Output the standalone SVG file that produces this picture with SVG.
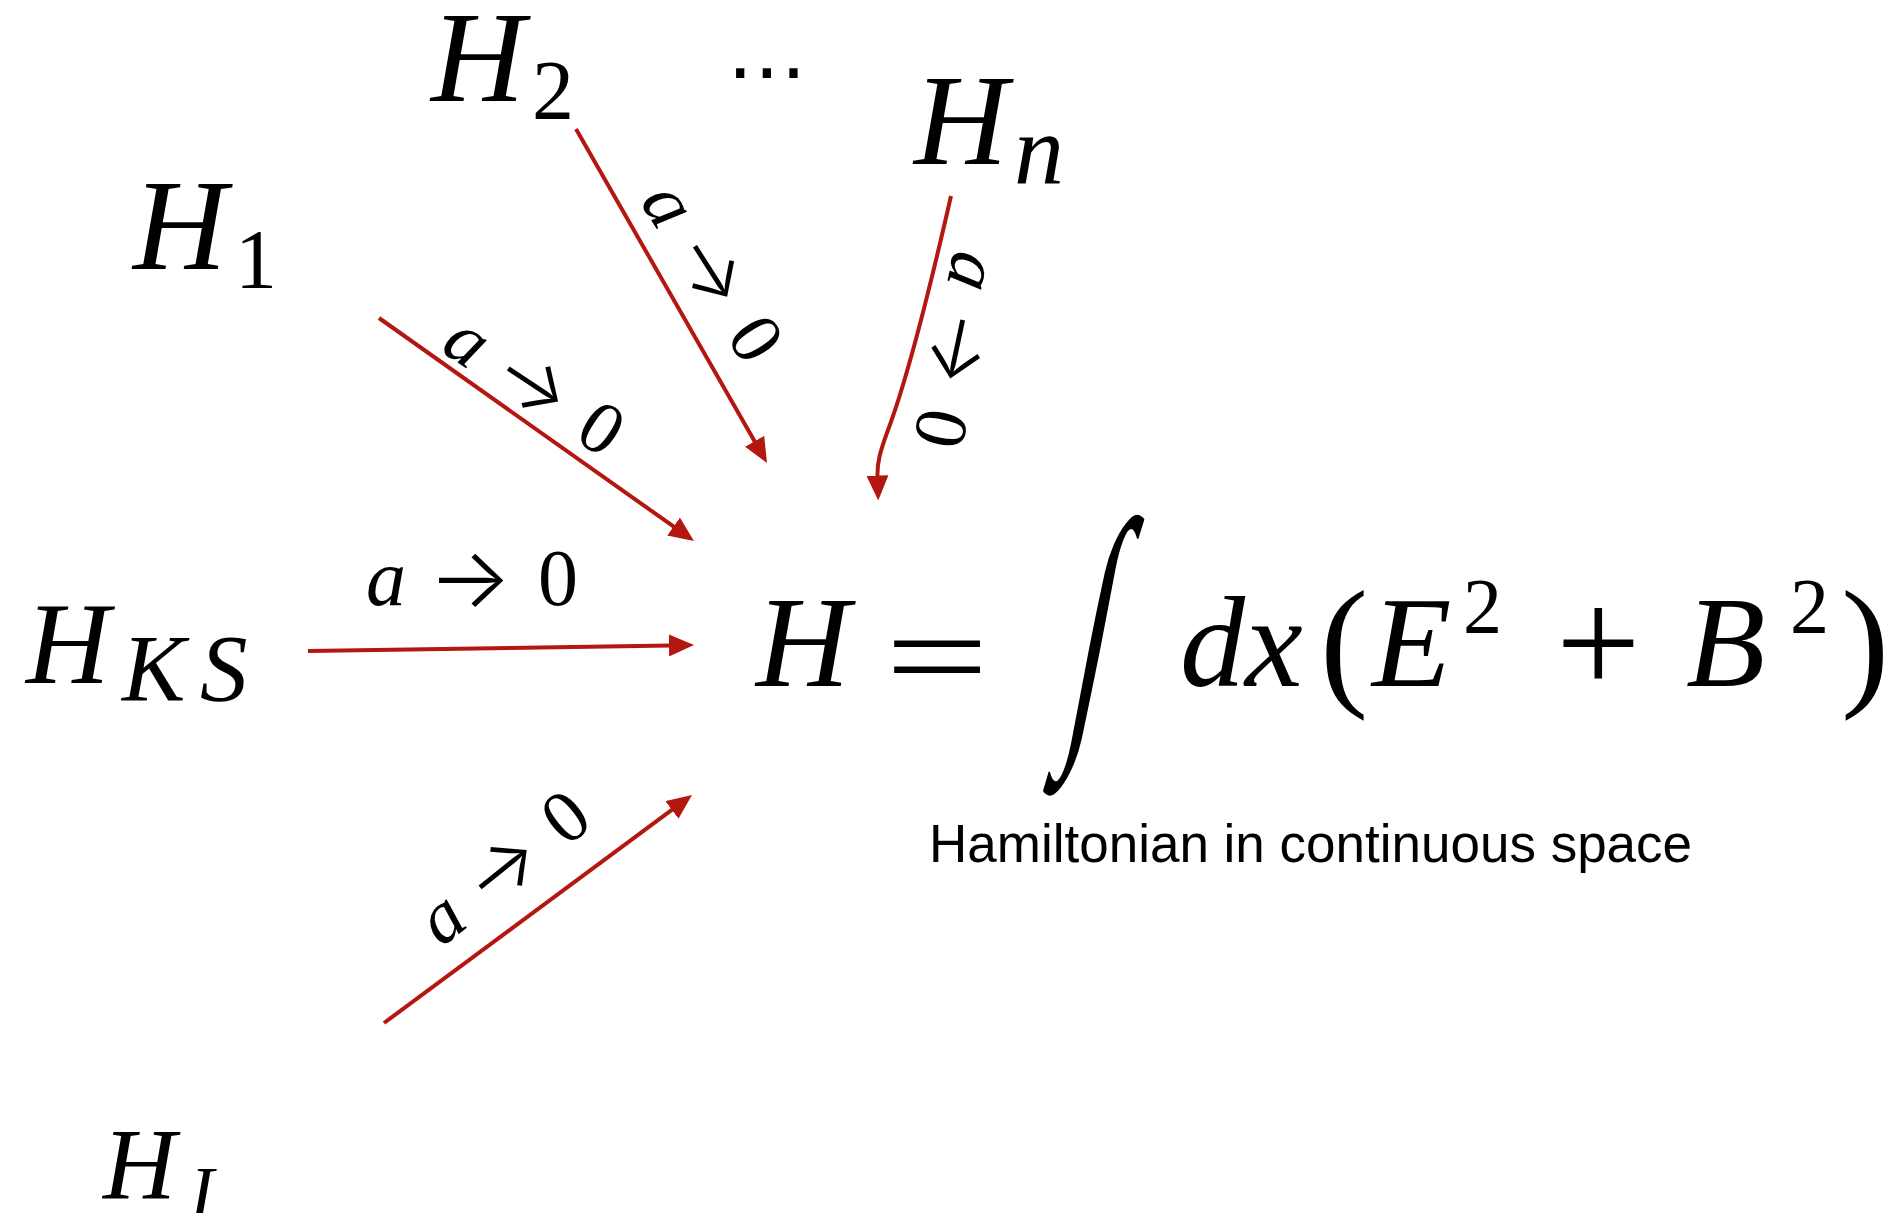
<svg xmlns="http://www.w3.org/2000/svg" width="1892" height="1213" viewBox="0 0 1892 1213">
<style>
.mi{font-family:"Liberation Serif","DejaVu Serif",serif;font-style:italic;fill:#000}
.mr{font-family:"Liberation Serif","DejaVu Serif",serif;font-style:normal;fill:#000}
.ar{font-family:Inter,"DejaVu Sans",sans-serif;font-weight:300;font-style:normal;fill:#000}
.cap{font-family:"Liberation Sans",Arial,sans-serif;fill:#000}
.arr{fill:none;stroke:#B41610;stroke-width:4;marker-end:url(#ah)}
</style>
<defs>
<marker id="ah" markerUnits="userSpaceOnUse" markerWidth="25" markerHeight="22" viewBox="0 0 25 22" refX="2" refY="11" orient="auto">
<path d="M0,0 L25,11 L0,22 z" fill="#B41610"/>
</marker>
</defs>
<rect width="1892" height="1213" fill="#fff"/>

<g id="node-H2">
<text class="mi" x="431" y="101" font-size="130">H</text>
<text class="mr" x="532" y="119" font-size="84">2</text>
</g>
<g id="node-dots">
<text x="767" y="98" font-size="80" text-anchor="middle" font-family="DejaVu Sans, sans-serif">⋯</text>
</g>
<g id="node-Hn">
<text class="mi" x="914" y="164" font-size="130">H</text>
<text class="mi" x="1014" y="183" font-size="100">n</text>
</g>
<g id="node-H1">
<text class="mi" x="133" y="269" font-size="130">H</text>
<text class="mr" x="235" y="288" font-size="84">1</text>
</g>
<g id="node-HKS">
<text class="mi" x="26" y="683" font-size="116">H</text>
<text class="mi" x="122" y="701" font-size="95">K</text>
<text class="mi" x="200" y="701" font-size="95">S</text>
</g>
<g id="node-HI">
<text class="mi" x="103" y="1199" font-size="101">H</text>
<text class="mi" x="190" y="1216" font-size="72">I</text>
</g>

<g id="node-H">
<text class="mi" x="756" y="686" font-size="130">H</text>
<text class="mr" x="885" y="700" font-size="130" textLength="104" lengthAdjust="spacingAndGlyphs">=</text>
<text class="mr" x="0" y="65" font-size="286" text-anchor="middle" transform="translate(1094,654) skewX(-11) scale(0.45,1)">∫</text>
<text class="mi" x="1180" y="686" font-size="130">dx</text>
<text class="mr" x="1320" y="690" font-size="145">(</text>
<text class="mi" x="1372" y="686" font-size="130">E</text>
<text class="mr" x="1463" y="632" font-size="78">2</text>
<text class="mr" x="1556" y="693" font-size="150">+</text>
<text class="mi" x="1686" y="686" font-size="130">B</text>
<text class="mr" x="1790" y="632" font-size="78">2</text>
<text class="mr" x="1841" y="690" font-size="145">)</text>
<text class="cap" x="929" y="862" font-size="53">Hamiltonian in continuous space</text>
</g>

<g id="connectors">
<path class="arr" d="M379,318 L675.2,527.7"/>
<path class="arr" d="M576,129 L755.6,443"/>
<path class="arr" d="M951,196 C925,310 905,385 888,430 C880,452 877,462 877.5,477.5"/>
<path class="arr" d="M308,651 L671,645.4"/>
<path class="arr" d="M384,1023 L673.5,808.7"/>
<g transform="translate(470,581)">
<text class="mi" x="-104" y="24" font-size="80">a</text>
<text class="ar" x="-42" y="26" font-size="84" textLength="84" lengthAdjust="spacingAndGlyphs">→</text>
<text class="mr" x="68" y="24" font-size="80">0</text>
</g>
<g transform="translate(532,385) rotate(33.5) scale(0.93)">
<text class="mi" x="-104" y="24" font-size="80">a</text>
<text class="ar" x="-42" y="26" font-size="84" textLength="84" lengthAdjust="spacingAndGlyphs">→</text>
<text class="mr" x="68" y="24" font-size="80">0</text>
</g>
<g transform="translate(710,271) rotate(57.5) scale(0.93)">
<text class="mi" x="-104" y="24" font-size="80">a</text>
<text class="ar" x="-42" y="26" font-size="84" textLength="84" lengthAdjust="spacingAndGlyphs">→</text>
<text class="mr" x="68" y="24" font-size="80">0</text>
</g>
<g transform="translate(956,348) rotate(102) scale(0.93)">
<text class="mi" x="-104" y="24" font-size="80">a</text>
<text class="ar" x="-42" y="26" font-size="84" textLength="84" lengthAdjust="spacingAndGlyphs">→</text>
<text class="mr" x="68" y="24" font-size="80">0</text>
</g>
<g transform="translate(503,870) rotate(-38.8) scale(0.93)">
<text class="mi" x="-104" y="24" font-size="80">a</text>
<text class="ar" x="-42" y="26" font-size="84" textLength="84" lengthAdjust="spacingAndGlyphs">→</text>
<text class="mr" x="68" y="24" font-size="80">0</text>
</g>
</g>
</svg>
